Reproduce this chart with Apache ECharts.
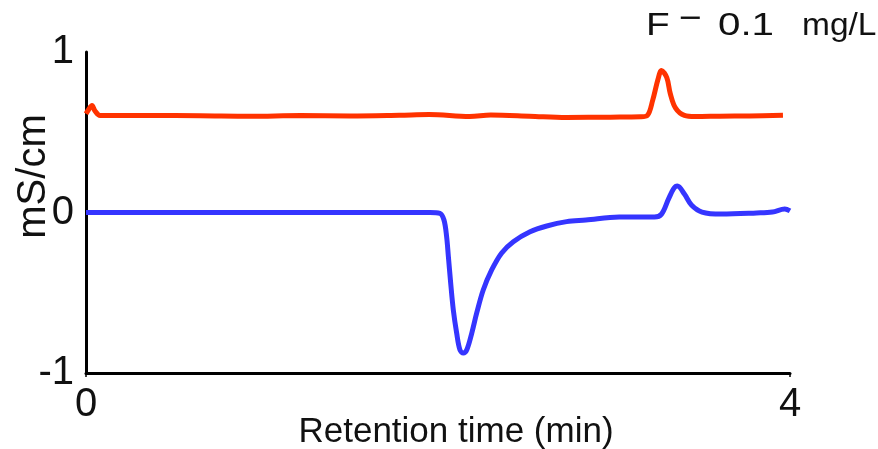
<!DOCTYPE html>
<html>
<head>
<meta charset="utf-8">
<script src="https://cdn.jsdelivr.net/npm/echarts@6/dist/echarts.min.js"></script>
<style>html,body{margin:0;padding:0;background:#fff;}#c{width:878px;height:449px;}</style>
</head>
<body>
<div id="c"></div>
<script>
var xTicks = [0, 4];
var yTicks = [-1, 0, 1];
var xAxisName = 'Retention time (min)';
var yAxisName = 'mS/cm';
var annotation = ['F', '\u2212', '0.1', 'mg/L'];

var blueTime = [0, 1.0, 1.78, 1.955, 2.011, 2.034, 2.049, 2.059, 2.072, 2.087, 2.106, 2.125, 2.144, 2.163, 2.192, 2.220, 2.257, 2.305, 2.362, 2.428, 2.523, 2.618, 2.731, 2.84, 3.03, 3.23, 3.27, 3.31, 3.34, 3.36, 3.40, 3.44, 3.50, 3.61, 3.81, 3.90, 3.97, 4.0];
var blueValue = [0, 0, 0, 0, -0.005, -0.047, -0.151, -0.275, -0.439, -0.607, -0.751, -0.857, -0.875, -0.857, -0.751, -0.626, -0.483, -0.358, -0.252, -0.182, -0.120, -0.084, -0.057, -0.047, -0.028, -0.028, -0.01, 0.085, 0.15, 0.165, 0.115, 0.047, 0.003, -0.01, -0.003, 0.003, 0.022, 0.01];

var redTime = [0, 0.017, 0.034, 0.05, 0.08, 0.36, 0.65, 0.93, 1.22, 1.5, 1.78, 1.95, 2.18, 2.3, 2.52, 2.73, 2.98, 3.15, 3.19, 3.22, 3.25, 3.27, 3.30, 3.32, 3.35, 3.40, 3.46, 3.6, 3.77, 3.96];
var redValue = [0.615, 0.645, 0.667, 0.635, 0.605, 0.604, 0.603, 0.600, 0.604, 0.602, 0.606, 0.610, 0.598, 0.607, 0.600, 0.592, 0.594, 0.596, 0.605, 0.70, 0.83, 0.885, 0.84, 0.74, 0.65, 0.605, 0.598, 0.600, 0.602, 0.606];

function pairs(t, v) { return t.map(function (x, i) { return [x, v[i]]; }); }

var chart = echarts.init(document.getElementById('c'), null, {renderer: 'canvas'});
var font = 'Liberation Sans, Arial, sans-serif';
chart.setOption({
  animation: false,
  backgroundColor: '#fff',
  grid: {left: 86, right: 88, top: 52, bottom: 76, containLabel: false, outerBoundsMode: 'none'},
  xAxis: {
    type: 'value', min: xTicks[0], max: xTicks[1], interval: 4,
    name: xAxisName, nameLocation: 'middle', nameGap: 42, nameMoveOverlap: false,
    nameTextStyle: {fontFamily: font, fontSize: 35, color: '#111', padding: [0, 0, 0, 36]},
    axisLine: {show: true, onZero: false, lineStyle: {color: '#000', width: 3}},
    axisTick: {show: true, length: 4, inside: false, lineStyle: {color: '#000', width: 1.5}},
    axisLabel: {fontFamily: font, fontSize: 40, color: '#111', margin: 12},
    splitLine: {show: false}
  },
  yAxis: {
    type: 'value', min: yTicks[0], max: yTicks[2], interval: 1,
    name: yAxisName, nameLocation: 'middle', nameGap: 32, nameMoveOverlap: false,
    nameTextStyle: {fontFamily: font, fontSize: 40, color: '#111', padding: [0, 0, 0, 72]},
    axisLine: {show: true, lineStyle: {color: '#000', width: 3}},
    axisTick: {show: false},
    axisLabel: {fontFamily: font, fontSize: 40, color: '#111', margin: 12, padding: [6, 0, 0, 0],
      formatter: function (v) { return String(v); }},
    splitLine: {show: false}
  },
  graphic: [
    {type: 'text', x: 646, y: 26, scaleX: 1.25, style: {text: annotation[0], font: '31px ' + font, fill: '#111', verticalAlign: 'middle'}},
    {type: 'text', x: 679, y: 20, scaleX: 1.15, style: {text: annotation[1], font: '34px ' + font, fill: '#111', verticalAlign: 'middle'}},
    {type: 'text', x: 718, y: 26, scaleX: 1.3, style: {text: annotation[2], font: '31px ' + font, fill: '#111', verticalAlign: 'middle'}},
    {type: 'text', x: 802, y: 26, scaleX: 1.08, style: {text: annotation[3], font: '31px ' + font, fill: '#111', verticalAlign: 'middle'}}
  ],
  series: [
    {type: 'line', data: pairs(redTime, redValue), showSymbol: false, smooth: 0.35,
      lineStyle: {color: '#ff3300', width: 5}, z: 3},
    {type: 'line', data: pairs(blueTime, blueValue), showSymbol: false, smooth: 0.35,
      lineStyle: {color: '#3535ff', width: 5}, z: 3}
  ]
});
</script>
</body>
</html>
